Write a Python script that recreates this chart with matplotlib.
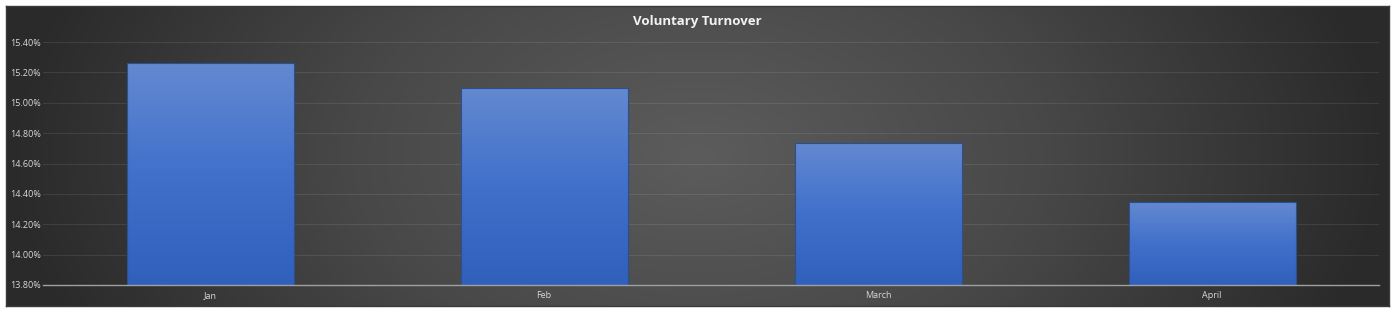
import numpy as np
import matplotlib
matplotlib.use("Agg")
import matplotlib.pyplot as plt
from matplotlib.colors import LinearSegmentedColormap
from matplotlib.ticker import FuncFormatter

# data
months = ["Jan", "Feb", "March", "April"]
turnover = [15.26, 15.10, 14.735, 14.345]
yticks = [13.8, 14.0, 14.2, 14.4, 14.6, 14.8, 15.0, 15.2, 15.4]

W, H = 1400, 312
fig = plt.figure(figsize=(W / 100, H / 100), dpi=100)
fig.patch.set_facecolor("white")

# chart background with radial gradient
bg = fig.add_axes([6 / W, 6 / H, (1389 - 6) / W, (306 - 6) / H])
nx, ny = 700, 150
xx, yy = np.meshgrid(np.linspace(-1, 1, nx), np.linspace(-1, 1, ny))
r = np.sqrt(xx ** 2 + (yy * 0.35) ** 2)
r = np.clip(r, 0, 1)
bg_cmap = LinearSegmentedColormap.from_list("bg", ["#5c5c5c", "#484848", "#2a2a2a"])
bg.imshow(r, cmap=bg_cmap, aspect="auto", extent=[0, 1, 0, 1], vmin=0, vmax=1)
bg.set_xlim(0, 1)
bg.set_ylim(0, 1)
bg.set_xticks([])
bg.set_yticks([])
for s in bg.spines.values():
    s.set_color("#3a3a3a")
    s.set_linewidth(1)

# plot area
ax = fig.add_axes([43 / W, (H - 285) / H, (1379 - 43) / W, (285 - 42) / H])
ax.patch.set_alpha(0)
x = np.arange(len(months))
bars = ax.bar(x, turnover, width=0.5, bottom=0, color="none",
              edgecolor="#2c4f8f", linewidth=0.8, zorder=3)

bar_cmap = LinearSegmentedColormap.from_list("bar", ["#2f60bb", "#4170cb", "#6389d0"])
grad = np.linspace(0, 1, 256).reshape(-1, 1)
for b in bars:
    x0, w, top = b.get_x(), b.get_width(), b.get_height()
    im = ax.imshow(grad, cmap=bar_cmap, aspect="auto", origin="lower",
                   extent=[x0, x0 + w, 13.8, top], zorder=2)
    im.set_clip_path(b)
ax.set_xlim(-0.5, len(months) - 0.5)
ax.set_ylim(13.8, 15.4)

ax.set_yticks(yticks)
ax.yaxis.set_major_formatter(FuncFormatter(lambda v, p: f"{v:.2f}%"))
ax.set_xticks(x)
ax.set_xticklabels(months)
ax.tick_params(axis="both", length=0, colors="#d9d9d9", labelsize=6.5)
ax.tick_params(axis="x", pad=4.5)
ax.tick_params(axis="y", pad=23.5)
for lbl in ax.get_xticklabels() + ax.get_yticklabels():
    lbl.set_family(["Open Sans", "DejaVu Sans"])
for t in ax.get_yticklabels():
    t.set_horizontalalignment("left")

ax.grid(axis="y", color="#ffffff", alpha=0.09, linewidth=0.8, zorder=0)
for k in ["top", "right", "left"]:
    ax.spines[k].set_visible(False)
ax.spines["bottom"].set_color("#a0a0a0")
ax.spines["bottom"].set_linewidth(1.0)
ax.spines["bottom"].set_zorder(4)

fig.text(697 / W, 1 - 21 / H, "Voluntary Turnover", ha="center", va="center",
         color="#f2f2f2", fontsize=9.5, fontweight="bold",
         family=["Open Sans", "DejaVu Sans"])

fig.savefig("out.png", dpi=100, facecolor=fig.get_facecolor())
